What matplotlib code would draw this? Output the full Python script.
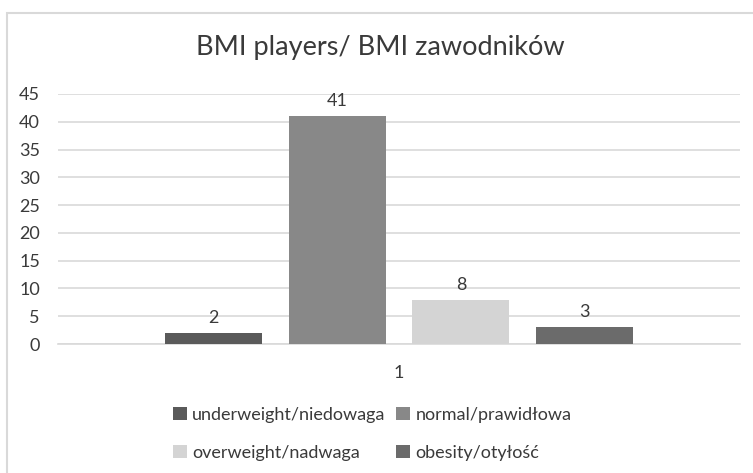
import numpy as np
import matplotlib.pyplot as plt
from matplotlib.patches import Rectangle

plt.rcParams['font.family'] = ['Lato', 'DejaVu Sans']

# BMI groups, one bar each inside the single category "1"
groups = ["underweight/niedowaga", "normal/prawidłowa",
          "overweight/nadwaga", "obesity/otyłość"]
counts = [2, 41, 8, 3]
colors = ["#5a5a5a", "#888888", "#d4d4d4", "#6b6b6b"]
category = "1"

txt = "#3a3a3a"

fig = plt.figure(figsize=(7.53, 4.73), dpi=100)
ax = fig.add_axes([0.077, 0.2727, 0.906, 0.5286])

# chart frame (left and top edges only visible)
fig.patches.append(Rectangle((7 / 753, -0.1), 1.2, 0.1 + 1 - 13 / 473,
                             transform=fig.transFigure, fill=False,
                             edgecolor="#d9d9d9", linewidth=1.5))

width = 0.142
step = 0.1813
offsets = (np.arange(len(counts)) - 1.5) * step
bars = []
for off, val, col, lab in zip(offsets, counts, colors, groups):
    b = ax.bar(off, val, width=width, color=col, label=lab, zorder=3)
    bars.append(b)
    ax.annotate(str(val), (off, val), xytext=(0, 5), textcoords="offset points",
                ha="center", va="bottom", fontsize=13, color=txt)

ax.set_xlim(-0.5, 0.5)
ax.set_ylim(0, 45)
ax.set_yticks(range(0, 46, 5))
ax.set_xticks([0])
ax.set_xticklabels([category])
ax.grid(axis="y", color="#d9d9d9", linewidth=1.2, zorder=0)
for s in ["top", "right", "left"]:
    ax.spines[s].set_visible(False)
ax.spines["bottom"].set_color("#d9d9d9")
ax.spines["bottom"].set_linewidth(1.2)
ax.tick_params(length=0, labelsize=13, labelcolor=txt)
ax.tick_params(axis="y", pad=13)
ax.tick_params(axis="x", pad=15)

fig.text(0.505, 1 - 47 / 473, "BMI players/ BMI zawodników", ha="center",
         va="center", fontsize=19.5, color=txt)

order = [0, 2, 1, 3]
fig.legend([bars[i] for i in order], [groups[i] for i in order], ncol=2,
           loc="upper left", bbox_to_anchor=(0.218, 1 - 398 / 473),
           frameon=False, fontsize=13, labelcolor=txt,
           handlelength=0.75, handleheight=0.75, handletextpad=0.3,
           labelspacing=1.2, columnspacing=0.6, borderpad=0)

plt.savefig("out.png", dpi=100)
